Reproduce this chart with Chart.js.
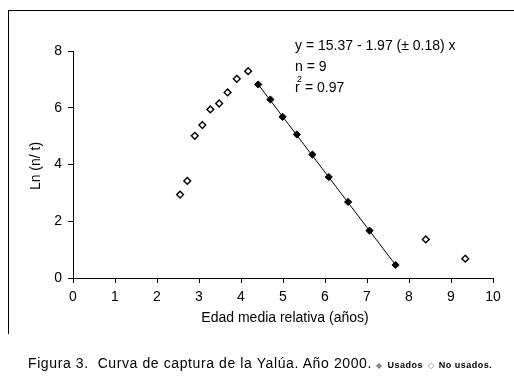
<!DOCTYPE html>
<html><head><meta charset="utf-8">
<script src="https://cdn.jsdelivr.net/npm/chart.js@4/dist/chart.umd.min.js"></script>
<style>
html,body{margin:0;padding:0;background:#fff;}
#wrap{position:relative;width:514px;height:386px;}
#frame{position:absolute;left:8px;top:10px;width:506px;height:324px;border-top:1px solid #000;border-left:1px solid #000;box-sizing:border-box;}
canvas{position:absolute;left:0;top:0;}
#cap{position:absolute;left:28px;top:355px;font-family:"Liberation Sans",Arial,sans-serif;font-size:14px;letter-spacing:0.6px;color:#000;white-space:nowrap;}
#cap b{font-size:9px;letter-spacing:0.5px;}
#cap .g{font-size:8px;color:#888;}
</style></head>
<body><div id="wrap"><div id="frame"></div><canvas id="c" width="514" height="386"></canvas>
<div id="cap">Figura 3.&nbsp; Curva de captura de la Yalúa. Año 2000. <span class="g">◆</span> <b>Usados</b> <span class="g">◇</span> <b>No usados.</b></div></div>
<script>
// Used points (fitted)
const usedX = [4.41, 4.70, 4.99, 5.33, 5.70, 6.09, 6.55, 7.06, 7.68];
const usedY = [6.82, 6.29, 5.68, 5.06, 4.35, 3.56, 2.68, 1.67, 0.46];
// Not used points
const notUsedX = [2.55, 2.72, 2.90, 3.08, 3.27, 3.48, 3.68, 3.90, 4.17, 8.40, 9.34];
const notUsedY = [2.94, 3.42, 5.01, 5.39, 5.94, 6.15, 6.54, 7.02, 7.29, 1.36, 0.68];
// Fitted line endpoints
const fitX = [4.41, 7.68];
const fitY = [6.82, 0.46];
const xTicks = [0,1,2,3,4,5,6,7,8,9,10];
const yTicks = [0,2,4,6,8];
const eqLines = ["y = 15.37 - 1.97 (\u00b1 0.18) x", "n = 9"];

const pts = (xs, ys) => xs.map((x, i) => ({x, y: ys[i]}));
const FONT = '"Liberation Sans", Arial, sans-serif';

const textPlugin = {
  id: 'texts',
  afterDraw(chart) {
    const ctx = chart.ctx;
    ctx.save();
    ctx.fillStyle = '#000';
    ctx.font = '14px ' + FONT;
    ctx.textBaseline = 'middle';
    ctx.textAlign = 'left';
    ctx.fillText(eqLines[0], 295, 46);
    ctx.fillText(eqLines[1], 295, 67);
    ctx.fillText('r', 295, 88);
    ctx.font = '9px ' + FONT;
    ctx.fillText('2', 297, 80);
    ctx.font = '14px ' + FONT;
    ctx.fillText(' = 0.97', 301, 88);
    // axis titles
    ctx.textAlign = 'center';
    ctx.fillText('Edad media relativa (a\u00f1os)', 285, 318);
    ctx.translate(36, 166);
    ctx.rotate(-Math.PI / 2);
    ctx.fillText('Ln (n/ t)', 0, 0);
    ctx.restore();
  }
};

new Chart(document.getElementById('c'), {
  type: 'scatter',
  data: {
    datasets: [
      { data: pts(fitX, fitY), showLine: true, borderColor: '#000', borderWidth: 1, pointRadius: 0, order: 3 },
      { data: pts(usedX, usedY), pointStyle: 'rectRot', pointRadius: 3.6, backgroundColor: '#000', borderColor: '#000', borderWidth: 1, order: 1 },
      { data: pts(notUsedX, notUsedY), pointStyle: 'rectRot', pointRadius: 3.4, backgroundColor: '#fff', borderColor: '#000', borderWidth: 1.4, order: 2 }
    ]
  },
  options: {
    responsive: false,
    animation: false,
    events: [],
    layout: { padding: { left: 0, right: 21, top: 51, bottom: 58 } },
    plugins: { legend: { display: false }, tooltip: { enabled: false } },
    scales: {
      x: {
        type: 'linear', min: 0, max: 10,
        afterBuildTicks: s => { s.ticks = xTicks.map(v => ({value: v})); },
        afterFit: s => { s.height = 50; },
        border: { display: true, color: '#000', width: 1 },
        grid: { drawOnChartArea: false, drawTicks: true, tickLength: 5, color: '#000' },
        ticks: { color: '#000', font: { family: FONT, size: 14 }, padding: 6, maxRotation: 0 }
      },
      y: {
        type: 'linear', min: 0, max: 8,
        afterBuildTicks: s => { s.ticks = yTicks.map(v => ({value: v})); },
        afterFit: s => { s.width = 73; },
        border: { display: true, color: '#000', width: 1 },
        grid: { drawOnChartArea: false, drawTicks: true, tickLength: 5, color: '#000' },
        ticks: { color: '#000', font: { family: FONT, size: 14 }, padding: 6 }
      }
    }
  },
  plugins: [textPlugin]
});
</script></body></html>
